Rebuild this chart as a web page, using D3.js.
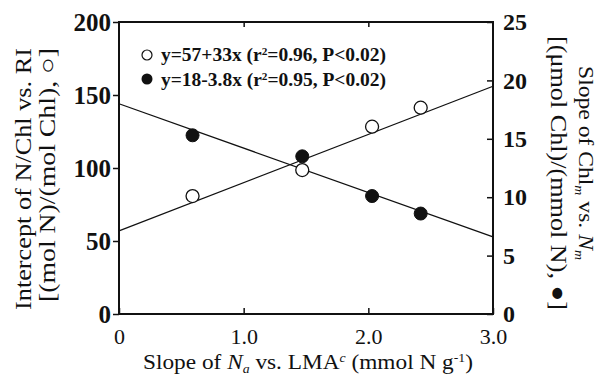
<!DOCTYPE html>
<html>
<head>
<meta charset="utf-8">
<script src="https://cdn.jsdelivr.net/npm/d3@7"></script>
<style>
  body { margin: 0; background: #fff; }
  text { font-family: "Liberation Serif", "Times New Roman", serif; fill: #111; }
</style>
</head>
<body>
<script>
// values
var slopeNa = [0.59, 1.47, 2.03, 2.42];
var interceptNChl = [80.8, 98.6, 128.3, 141.3];   // open circles, left axis
var slopeChl = [15.3, 13.5, 10.1, 8.6];           // filled circles, right axis
var fitOpen = [57, 33];      // y = 57 + 33x
var fitFilled = [18, -3.8];  // y = 18 - 3.8x
var xTicks = [0, 1, 2, 3];
var yLeftTicks = [0, 50, 100, 150, 200];
var yRightTicks = [0, 5, 10, 15, 20, 25];
var legendText = ['y=57+33x (r\u00b2=0.96, P<0.02)', 'y=18-3.8x (r\u00b2=0.95, P<0.02)'];

var width = 599, height = 380;
var plotLeft = 119, plotRight = 493, plotTop = 22, plotBottom = 314;

var svg = d3.select('body').append('svg')
  .attr('width', width)
  .attr('height', height);

var x = d3.scaleLinear().domain([0, 3]).range([plotLeft, plotRight]);
var yL = d3.scaleLinear().domain([0, 200]).range([plotBottom, plotTop]);
var yR = d3.scaleLinear().domain([0, 25]).range([plotBottom, plotTop]);

// axes
var gLeft = svg.append('g')
  .attr('transform', 'translate(' + plotLeft + ',0)')
  .call(d3.axisLeft(yL).tickValues(yLeftTicks).tickSize(6).tickPadding(2).tickFormat(d3.format('d')));

var gRight = svg.append('g')
  .attr('transform', 'translate(' + plotRight + ',0)')
  .call(d3.axisRight(yR).tickValues(yRightTicks).tickSizeInner(-6).tickSizeOuter(0).tickPadding(10).tickFormat(d3.format('d')));

var gBottom = svg.append('g')
  .attr('transform', 'translate(0,' + plotBottom + ')')
  .call(d3.axisBottom(x).tickValues(xTicks).tickSizeInner(-6).tickSizeOuter(0).tickPadding(14)
    .tickFormat(function(d) { return d === 0 ? '0' : d3.format('.1f')(d); }));

var gTop = svg.append('g')
  .attr('transform', 'translate(0,' + plotTop + ')')
  .call(d3.axisTop(x).tickValues([1, 2]).tickSizeInner(-5).tickSizeOuter(0).tickFormat(''));

[gLeft, gRight, gBottom, gTop].forEach(function(g) {
  g.select('.domain').remove();
  g.selectAll('line').attr('stroke', '#111').attr('stroke-width', 1.5);
});

gLeft.selectAll('text').style('font-size', '25px').style('font-weight', 'bold')
  .style('font-family', '"Liberation Serif", serif').attr('fill', '#111');
gRight.selectAll('text').style('font-size', '24px').style('font-weight', 'bold')
  .style('font-family', '"Liberation Serif", serif').attr('fill', '#111');
gBottom.selectAll('text').style('font-size', '22px')
  .style('font-family', '"Liberation Serif", serif').attr('fill', '#111');

// frame
svg.append('rect')
  .attr('x', plotLeft).attr('y', plotTop)
  .attr('width', plotRight - plotLeft).attr('height', plotBottom - plotTop)
  .attr('fill', 'none').attr('stroke', '#111').attr('stroke-width', 2);

// fitted lines
svg.append('line')
  .attr('x1', x(0)).attr('y1', yL(fitOpen[0]))
  .attr('x2', x(3)).attr('y2', yL(fitOpen[0] + fitOpen[1] * 3))
  .attr('stroke', '#111').attr('stroke-width', 1.3);

svg.append('line')
  .attr('x1', x(0)).attr('y1', yR(fitFilled[0]))
  .attr('x2', x(3)).attr('y2', yR(fitFilled[0] + fitFilled[1] * 3))
  .attr('stroke', '#111').attr('stroke-width', 1.3);

// points
svg.selectAll('.open').data(slopeNa).enter().append('circle')
  .attr('cx', function(d) { return x(d); })
  .attr('cy', function(d, i) { return yL(interceptNChl[i]); })
  .attr('r', 6.5)
  .attr('fill', '#fff').attr('stroke', '#111').attr('stroke-width', 1.3);

svg.selectAll('.filled').data(slopeNa).enter().append('circle')
  .attr('cx', function(d) { return x(d); })
  .attr('cy', function(d, i) { return yR(slopeChl[i]); })
  .attr('r', 6.5)
  .attr('fill', '#111').attr('stroke', '#111').attr('stroke-width', 1);

// legend
var legend = svg.append('g');
legend.append('circle').attr('cx', 147).attr('cy', 55).attr('r', 5)
  .attr('fill', '#fff').attr('stroke', '#111').attr('stroke-width', 1.2);
legend.append('circle').attr('cx', 147).attr('cy', 79).attr('r', 5.5)
  .attr('fill', '#111');
legendText.forEach(function(t, i) {
  var txt = legend.append('text')
    .attr('x', 161).attr('y', 61 + i * 25)
    .attr('textLength', 225).attr('lengthAdjust', 'spacingAndGlyphs')
    .style('font-size', '19px').style('font-weight', 'bold');
  var parts = t.split('\u00b2');
  txt.append('tspan').text(parts[0]);
  txt.append('tspan').attr('dy', -6).style('font-size', '11px').text('2');
  txt.append('tspan').attr('dy', 6).text(parts[1]);
});

// x label
var xl = svg.append('text')
  .attr('x', 143).attr('y', 369)
  .attr('textLength', 330).attr('lengthAdjust', 'spacingAndGlyphs')
  .style('font-size', '22px');
xl.append('tspan').text('Slope of ');
xl.append('tspan').style('font-style', 'italic').text('N');
xl.append('tspan').attr('dy', 4).style('font-size', '13px').style('font-style', 'italic').text('a');
xl.append('tspan').attr('dy', -4).text(' vs. LMA');
xl.append('tspan').attr('dy', -7).style('font-size', '13px').style('font-style', 'italic').text('c');
xl.append('tspan').attr('dy', 7).text(' (mmol N g');
xl.append('tspan').attr('dy', -7).style('font-size', '13px').text('-1');
xl.append('tspan').attr('dy', 7).text(')');

// left y label
var ylab = svg.append('g').attr('transform', 'rotate(-90)');
ylab.append('text').attr('x', -310).attr('y', 31)
  .attr('textLength', 262).attr('lengthAdjust', 'spacingAndGlyphs')
  .style('font-size', '23px').text('Intercept of N/Chl vs. RI');
ylab.append('text').attr('x', -302).attr('y', 55)
  .attr('textLength', 254).attr('lengthAdjust', 'spacingAndGlyphs')
  .style('font-size', '23px').text('[(mol N)/(mol Chl), \u25cb]');

// right y label
var yr = svg.append('g').attr('transform', 'rotate(90)');
var r1 = yr.append('text').attr('x', 66).attr('y', -579)
  .attr('textLength', 194).attr('lengthAdjust', 'spacingAndGlyphs')
  .style('font-size', '22px');
r1.append('tspan').text('Slope of Chl');
r1.append('tspan').attr('dy', 4).style('font-size', '13px').style('font-style', 'italic').text('m');
r1.append('tspan').attr('dy', -4).text(' vs. ');
r1.append('tspan').style('font-style', 'italic').text('N');
r1.append('tspan').attr('dy', 4).style('font-size', '13px').style('font-style', 'italic').text('m');
yr.append('text').attr('x', 36).attr('y', -551)
  .attr('textLength', 274).attr('lengthAdjust', 'spacingAndGlyphs')
  .style('font-size', '23px').text('[(\u03bcmol Chl)/(mmol N), \u25cf]');
</script>
</body>
</html>
